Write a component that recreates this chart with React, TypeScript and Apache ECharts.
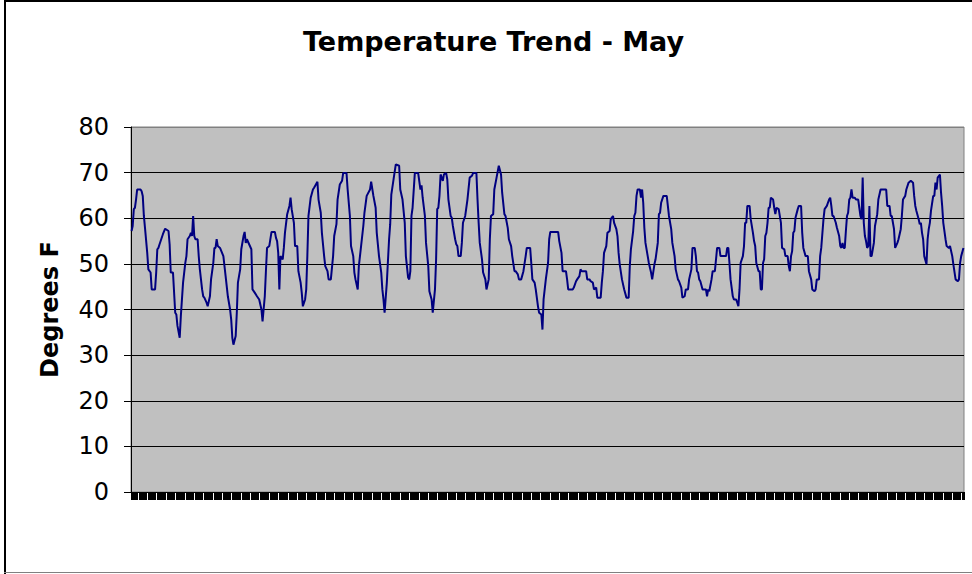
import React, { useEffect, useRef } from "react";
import * as echarts from "echarts";

const TITLE = "Temperature Trend - May";
const Y_NAME = "Degrees F";
const Y_MIN = 0;
const Y_MAX = 80;
const Y_STEP = 10;
const HOURS_IN_MAY = 744;

// Hourly readings [hour of month, °F]
const days1to5: [number, number][] = [
  [0,57.2],[1,58.3],[2,62.0],[3,62.3],[4,64.1],[5,66.3],[8,66.3],[9,65.9],[10,64.9],[11,60.5],[12,57.9],[14,52.4],[15,48.8],[17,48.1],[18,44.4],[21,44.4],[22,48.1],[23,53.2],[24,53.5],[25,54.3],[28,56.5],[30,57.7],[33,57.2],[34,54.3],[35,48.1],[37,48.1],[39,39.3],[40,38.9],[41,36.4],[43,33.8],[44,38.5],[46,45.9],[48,50.2],[49,51.7],[50,55.4],[52,56.1],[53,56.8],[54,56.1],[55,60.5],[56,56.1],[57,55.4],[59,55.4],[60,51.7],[61,48.8],[62,46.6],[63,44.4],[64,42.9],[65,42.6],[67,41.5],[68,40.7],[70,42.9],[71,46.6],[73,50.2],[74,53.5],[75,53.5],[76,55.4],[77,53.9],[79,53.5],[82,51.7],[84,47.3],[86,42.9],[88,40.0],[89,37.8],[90,33.8],[91,32.3],[93,34.2],[94,39.3],[95,45.9],[97,48.8],[98,53.2],[100,56.1],[101,57.0],[102,54.6],[103,55.4],[105,54.3],[107,53.2],[108,44.4],[110,43.7],[112,42.9],[114,42.2],[116,40.0],[117,37.4],[119,42.9],[120,48.4]
];
const days6to10: [number, number][] = [
  [121,53.5],[123,53.9],[125,57.0],[128,57.0],[129,55.7],[130,55.0],[131,52.4],[132,44.4],[133,51.7],[135,51.0],[136,53.5],[137,56.8],[139,60.9],[141,62.7],[142,64.5],[143,62.0],[145,59.0],[146,53.9],[148,53.9],[149,48.4],[151,45.9],[152,43.7],[153,40.7],[155,42.2],[156,44.4],[157,51.7],[158,60.5],[160,64.5],[162,66.3],[163,66.7],[166,68.0],[167,64.1],[169,61.2],[170,56.8],[172,51.7],[173,49.5],[175,48.4],[176,46.6],[178,46.6],[180,51.7],[181,56.1],[183,58.7],[184,64.1],[186,67.4],[188,68.2],[189,69.9],[192,69.9],[193,66.3],[195,60.5],[196,53.9],[198,51.7],[199,48.1],[200,46.6],[202,44.4],[203,49.5],[205,53.9],[207,58.3],[208,61.2],[210,64.9],[213,66.3],[214,68.0],[216,64.9],[218,62.3],[219,56.8],[221,51.7],[223,48.1],[224,44.4],[225,42.2],[226,39.3],[228,45.9],[230,55.4],[231,58.7],[232,65.2],[234,68.5],[236,71.8],[239,71.5],[240,66.3],[242,64.1],[244,59.0],[245,51.7],[247,47.0]
];
const days11to15: [number, number][] = [
  [248,46.6],[249,48.4],[250,60.5],[251,62.3],[253,69.9],[256,69.9],[258,66.3],[259,67.2],[260,64.5],[262,60.5],[263,54.6],[265,49.5],[266,44.0],[268,42.2],[269,39.3],[271,44.4],[272,51.0],[273,62.0],[274,62.3],[275,64.9],[276,69.6],[278,68.2],[279,69.6],[281,69.9],[282,68.5],[283,64.1],[285,60.5],[286,60.1],[287,58.3],[289,55.4],[290,54.3],[291,53.9],[292,51.7],[294,51.7],[295,54.6],[296,59.0],[298,60.5],[300,64.1],[302,68.9],[304,69.3],[305,69.9],[308,69.9],[309,64.1],[310,59.0],[311,54.6],[313,51.0],[314,48.1],[316,46.6],[317,44.4],[319,46.6],[320,55.4],[321,60.5],[323,60.9],[324,66.3],[326,68.9],[328,71.5],[330,69.6],[331,65.6],[333,60.9],[334,60.5],[336,57.9],[337,55.4],[339,53.9],[340,51.7],[342,48.4],[343,48.4],[345,47.7],[346,46.6],[348,46.6],[350,48.4],[352,51.7],[353,53.5],[356,53.5],[357,50.2],[358,46.6],[360,45.9],[361,44.4],[363,40.7],[364,39.3],[366,38.9],[367,35.6],[368,42.2],[370,46.6]
];
const days16to20: [number, number][] = [
  [372,50.2],[373,55.4],[374,57.0],[381,57.0],[382,55.0],[384,52.4],[385,48.4],[388,48.4],[389,46.6],[390,44.4],[394,44.4],[395,44.8],[397,46.2],[398,46.6],[400,47.3],[401,48.8],[402,48.4],[406,48.4],[407,46.6],[409,46.6],[410,46.2],[412,45.9],[413,44.4],[415,44.8],[416,42.6],[419,42.6],[420,45.9],[421,48.4],[422,52.4],[424,53.9],[425,56.8],[427,57.2],[428,59.8],[430,60.5],[431,59.0],[433,57.6],[434,56.1],[435,52.4],[436,49.9],[438,46.6],[440,44.4],[442,42.6],[444,42.6],[445,49.5],[446,53.2],[448,57.2],[449,60.5],[450,61.2],[451,64.9],[452,66.3],[454,66.3],[455,64.5],[456,66.3],[457,63.4],[458,57.9],[459,54.6],[461,51.7],[462,50.2],[464,48.1],[465,46.6],[467,49.9],[468,51.0],[470,54.6],[471,60.9],[472,61.2],[473,63.4],[475,64.9],[478,64.9],[479,62.7],[480,60.5],[482,57.6],[483,54.6],[485,51.7],[486,48.8],[488,46.6],[489,46.2],[491,44.8],[492,42.6],[494,42.9],[495,44.4]
];
const days21to26: [number, number][] = [
  [497,44.4],[498,46.6],[500,48.8],[501,53.5],[503,53.5],[504,51.7],[505,48.4],[506,48.1],[507,46.6],[508,46.2],[510,44.4],[513,44.4],[514,42.9],[515,44.4],[516,44.0],[518,46.6],[519,48.4],[521,48.4],[523,53.5],[525,53.5],[526,51.7],[531,51.7],[532,53.5],[533,53.5],[534,50.2],[535,46.6],[537,42.9],[538,42.2],[540,42.2],[541,41.5],[542,40.7],[543,44.4],[544,50.2],[546,51.7],[547,53.9],[548,59.0],[549,59.0],[550,62.7],[552,62.7],[553,59.8],[555,56.8],[556,55.0],[557,53.9],[558,50.2],[560,48.4],[561,48.4],[562,44.4],[563,44.4],[564,50.2],[565,51.0],[566,56.1],[567,56.8],[568,59.0],[569,62.3],[570,62.3],[571,64.5],[573,64.1],[574,62.3],[575,60.9],[576,62.3],[578,62.0],[580,59.0],[581,53.5],[583,53.2],[584,51.7],[586,51.7],[587,49.5],[588,48.4],[589,51.7],[590,52.8],[591,56.8],[592,57.2],[593,60.1],[595,62.0],[596,62.7],[598,62.7],[599,56.8],[600,53.5],[602,51.7],[604,51.7],[605,48.4],[607,46.6],[608,44.4],[610,44.0],[611,44.4],[612,46.6],[614,46.6],[615,51.7],[616,53.5],[618,59.8],[619,62.0]
];
const days26to31: [number, number][] = [
  [621,62.7],[623,64.1],[624,64.5],[625,62.7],[626,60.5],[627,60.5],[629,59.0],[630,57.9],[632,56.1],[633,53.9],[634,53.5],[635,54.6],[636,53.5],[637,53.5],[638,57.2],[639,60.5],[640,61.2],[641,64.1],[642,64.5],[643,66.3],[644,64.5],[646,64.5],[647,64.1],[649,64.1],[650,62.3],[651,60.5],[652,59.8],[653,68.9],[654,59.0],[655,56.1],[656,55.0],[657,53.5],[658,53.9],[659,62.7],[660,51.7],[661,51.7],[663,54.6],[664,58.3],[666,60.9],[667,64.1],[669,66.3],[674,66.3],[675,62.7],[677,62.7],[678,60.5],[679,60.5],[681,57.6],[682,53.5],[684,54.6],[685,55.4],[687,57.6],[688,60.5],[689,64.1],[691,64.9],[692,66.3],[694,67.8],[696,68.2],[698,67.8],[699,64.9],[700,62.7],[701,61.6],[703,59.8],[704,58.7],[705,59.0],[706,56.8],[707,55.4],[708,51.7],[710,49.9],[711,55.4],[712,57.6],[713,59.0],[714,61.6],[716,64.9],[717,64.9],[718,67.8],[719,66.3],[720,68.9],[722,69.6],[723,65.6],[724,62.7],[725,59.0],[727,55.4],[728,53.9],[730,53.5],[731,53.9],[733,51.7],[734,49.9],[736,46.6],[738,46.2],[739,46.6],[740,50.2],[741,51.7],[743,53.5]
];

const hourCategories: string[] = Array.from({ length: HOURS_IN_MAY }, (_, i) =>
  `May ${Math.floor(i / 24) + 1} ${String(i % 24).padStart(2, "0")}:00`
);

export default function App() {
  const ref = useRef<HTMLDivElement>(null);
  useEffect(() => {
    if (!ref.current) return;
    const chart = echarts.init(ref.current, null, { renderer: "svg" });
    const readings = [
      ...days1to5, ...days6to10, ...days11to15, ...days16to20, ...days21to26, ...days26to31,
    ];
    const gridColors = ["#000", "#000", "#000", "#000", "#000", "#000", "#000", "#000", "#808080"];
    chart.setOption({
      animation: false,
      backgroundColor: "#ffffff",
      title: {
        text: TITLE,
        left: 298,
        top: 23,
        textStyle: { fontFamily: "DejaVu Sans", fontWeight: "bold", fontSize: 27, color: "#000" },
      },
      grid: {
        left: 131, top: 127, width: 833, height: 365,
        show: true, backgroundColor: "#C0C0C0", borderColor: "#808080", borderWidth: 1,
        containLabel: false,
      },
      xAxis: {
        type: "category",
        data: hourCategories,
        boundaryGap: true,
        axisLine: { show: true, lineStyle: { color: "#000", width: 1 } },
        axisTick: { show: true, interval: 0, length: 8, lineStyle: { color: "#000", width: 1 } },
        axisLabel: { show: false },
        splitLine: { show: false },
      },
      yAxis: {
        type: "value",
        min: Y_MIN, max: Y_MAX, interval: Y_STEP,
        name: Y_NAME,
        nameLocation: "middle",
        nameGap: 69,
        nameTextStyle: { fontFamily: "DejaVu Sans", fontWeight: "bold", fontSize: 24, color: "#000" },
        axisLine: { show: true, lineStyle: { color: "#000", width: 1 } },
        axisTick: { show: true, length: 7, lineStyle: { color: "#000" } },
        axisLabel: { fontFamily: "DejaVu Sans", fontSize: 24, color: "#000", margin: 22 },
        splitLine: { show: true, lineStyle: { color: gridColors, width: 1 } },
      },
      series: [
        {
          type: "line",
          data: readings,
          showSymbol: false,
          symbol: "none",
          lineStyle: { color: "#000080", width: 2 },
          itemStyle: { color: "#000080" },
        },
      ],
      graphic: [
        { type: "rect", shape: { x: 4, y: 0, width: 968, height: 2 }, style: { fill: "#000" }, silent: true },
        { type: "rect", shape: { x: 4, y: 0, width: 2, height: 574 }, style: { fill: "#000" }, silent: true },
        { type: "rect", shape: { x: 4, y: 572, width: 968, height: 1 }, style: { fill: "#808080" }, silent: true },
      ],
    });
    return () => chart.dispose();
  }, []);
  return (
    <div
      ref={ref}
      style={{ position: "absolute", left: 0, top: 0, width: 972, height: 574, background: "#fff" }}
    />
  );
}
